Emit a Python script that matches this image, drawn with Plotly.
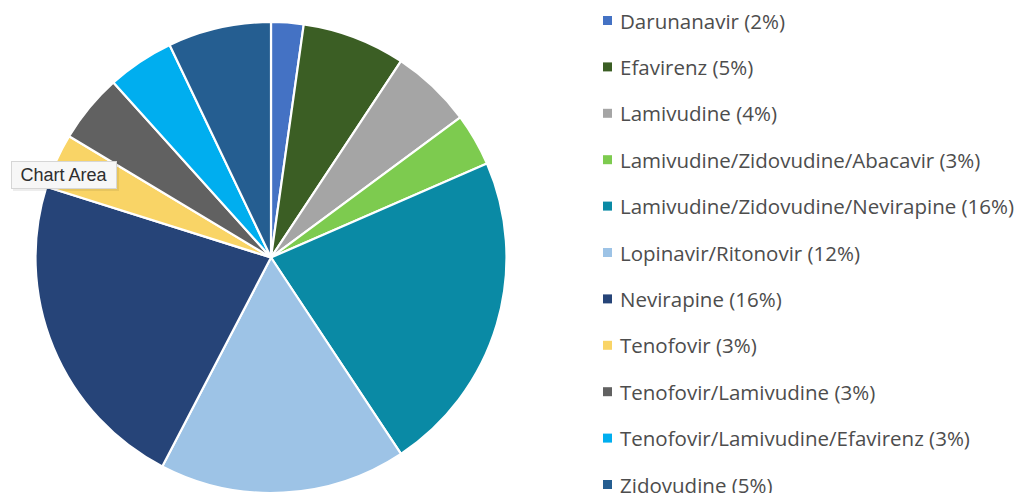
import plotly.graph_objects as go

# ---- data ----
labels = ["Darunanavir", "Efavirenz", "Lamivudine",
          "Lamivudine/Zidovudine/Abacavir", "Lamivudine/Zidovudine/Nevirapine",
          "Lopinavir/Ritonovir", "Nevirapine", "Tenofovir",
          "Tenofovir/Lamivudine", "Tenofovir/Lamivudine/Efavirenz", "Zidovudine"]
values = [1.6, 5.1, 4.0, 2.6, 16.0, 12.2, 16.0, 2.7, 3.4, 3.3, 5.1]
legend_pct = [2, 5, 4, 3, 16, 12, 16, 3, 3, 3, 5]
colors = ["#4472C4", "#3B5E24", "#A5A5A5", "#7DCB4F", "#0A8AA5",
          "#9DC3E6", "#264478", "#F9D466", "#616161", "#00AEEF", "#255E91"]

# page body has an 8px margin: work in figure pixels = screen pixels - 8
OFF = 8
W, H = 1035 - OFF, 493 - OFF


def px(x):
    return (x - OFF) / W


def py(y):
    return 1 - (y - OFF) / H


cx, top = 271, 22          # screen coords of pie centre x and top edge
r = (H - (top - OFF)) / 2

fig = go.Figure(go.Pie(
    labels=labels, values=values, sort=False, direction="clockwise", rotation=0,
    marker=dict(colors=colors, line=dict(color="white", width=2.2)),
    textinfo="none", hoverinfo="label+percent", showlegend=False,
    domain=dict(x=[px(cx) - r / W, px(cx) + r / W], y=[0, 1 - (top - OFF) / H]),
))

# ---- custom legend ----
shapes = []
annotations = []
y0, dy = 20, 46.4
for i, (lab, p, c) in enumerate(zip(labels, legend_pct, colors)):
    yc = y0 + i * dy
    shapes.append(dict(type="rect", xref="paper", yref="paper",
                       x0=px(603), x1=px(612), y0=py(yc + 5), y1=py(yc - 4),
                       fillcolor=c, line=dict(width=0)))
    annotations.append(dict(text=f"{lab} ({p}%)", xref="paper", yref="paper",
                            x=px(618), y=py(yc + 0.5), xanchor="left", yanchor="middle",
                            showarrow=False,
                            font=dict(family="Open Sans", size=20.5, color="#4D4D4D")))

# tooltip-like "Chart Area" box
shapes.append(dict(type="rect", xref="paper", yref="paper",
                   x0=px(13), x1=px(119), y0=py(191), y1=py(162),
                   fillcolor="rgba(0,0,0,0.07)", line=dict(width=0)))
annotations.append(dict(text="Chart Area", xref="paper", yref="paper",
                        x=px(11), y=py(161), xanchor="left", yanchor="top",
                        width=104, height=26, align="center", valign="middle",
                        showarrow=False, bgcolor="#F7F7F7", bordercolor="#D6D6D6",
                        borderwidth=1, borderpad=0,
                        font=dict(family="Liberation Sans", size=18, color="#2E2E2E")))

fig.update_layout(width=W, height=H, margin=dict(l=0, r=0, t=0, b=0),
                  paper_bgcolor="white", plot_bgcolor="white",
                  shapes=shapes, annotations=annotations)

fig.write_html("out.html")
